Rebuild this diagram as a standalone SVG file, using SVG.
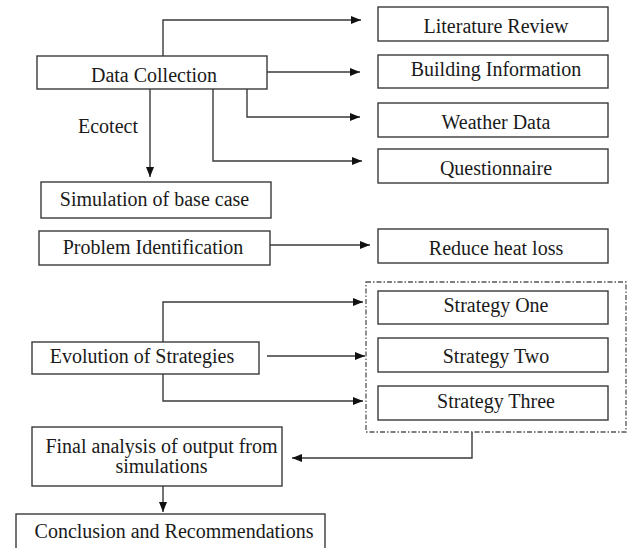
<svg xmlns="http://www.w3.org/2000/svg" width="627" height="548" viewBox="0 0 627 548">
<style>
.box{fill:#fff;stroke:#3a3a3a;stroke-width:1.4}
.lbl{font-family:"Liberation Serif","Times New Roman",serif;font-size:20px;fill:#1a1a1a;text-anchor:middle}
.con{fill:none;stroke:#3a3a3a;stroke-width:1.4;marker-end:url(#ah)}
.grp{fill:none;stroke:#555;stroke-width:1.3;stroke-dasharray:5 2 1.5 2}
</style>
<defs>
<marker id="ah" markerUnits="userSpaceOnUse" markerWidth="11" markerHeight="9" refX="10" refY="4" orient="auto">
<path d="M0,0 L10,4 L0,8 z" fill="#111"/>
</marker>
</defs>
<rect width="627" height="548" fill="#fff"/>
<g id="connectors">
<path class="con" d="M163,56 V20 H361"/>
<path class="con" d="M267,72 H360"/>
<path class="con" d="M247,89 V117 H360"/>
<path class="con" d="M213,89 V161 H362"/>
<path class="con" d="M150,89 V177"/>
<text class="lbl" x="108" y="133">Ecotect</text>
<path class="con" d="M270,245 H370"/>
<path class="con" d="M163,342 V302 H363"/>
<path class="con" d="M267,356 H365"/>
<path class="con" d="M163,374 V401 H363"/>
<path class="con" d="M472,432 V458 H292"/>
<path class="con" d="M163,486 V512"/>
</g>
<g id="strategies-group"><rect class="grp" x="366" y="282" width="260" height="150"/></g>
<g id="literature-review"><rect class="box" x="378" y="7" width="230" height="34"/><text class="lbl" x="496" y="33">Literature Review</text></g>
<g id="data-collection"><rect class="box" x="37" y="56" width="230" height="33"/><text class="lbl" x="154" y="81.5">Data Collection</text></g>
<g id="building-information"><rect class="box" x="378" y="55" width="230" height="33"/><text class="lbl" x="496" y="76">Building Information</text></g>
<g id="weather-data"><rect class="box" x="378" y="103" width="230" height="34"/><text class="lbl" x="496" y="129">Weather Data</text></g>
<g id="questionnaire"><rect class="box" x="378" y="149" width="230" height="34"/><text class="lbl" x="496" y="174.5">Questionnaire</text></g>
<g id="simulation-base-case"><rect class="box" x="41" y="182" width="230" height="36"/><text class="lbl" x="154.5" y="206">Simulation of base case</text></g>
<g id="problem-identification"><rect class="box" x="39" y="231" width="231" height="34"/><text class="lbl" x="153" y="254">Problem Identification</text></g>
<g id="reduce-heat-loss"><rect class="box" x="378" y="229" width="230" height="34"/><text class="lbl" x="496" y="255">Reduce heat loss</text></g>
<g id="evolution-strategies"><rect class="box" x="32" y="342" width="227" height="32"/><text class="lbl" x="142" y="363">Evolution of Strategies</text></g>
<g id="strategy-one"><rect class="box" x="378" y="291" width="230" height="33"/><text class="lbl" x="496" y="311.5">Strategy One</text></g>
<g id="strategy-two"><rect class="box" x="378" y="338" width="230" height="34"/><text class="lbl" x="496" y="363">Strategy Two</text></g>
<g id="strategy-three"><rect class="box" x="378" y="386" width="230" height="34"/><text class="lbl" x="496" y="408">Strategy Three</text></g>
<g id="final-analysis"><rect class="box" x="32" y="427" width="250" height="59"/><text class="lbl" x="161.5" y="453">Final analysis of output from</text><text class="lbl" x="161.5" y="473">simulations</text></g>
<g id="conclusion"><rect class="box" x="16" y="514" width="309" height="40"/><text class="lbl" x="174" y="538">Conclusion and Recommendations</text></g>
</svg>
